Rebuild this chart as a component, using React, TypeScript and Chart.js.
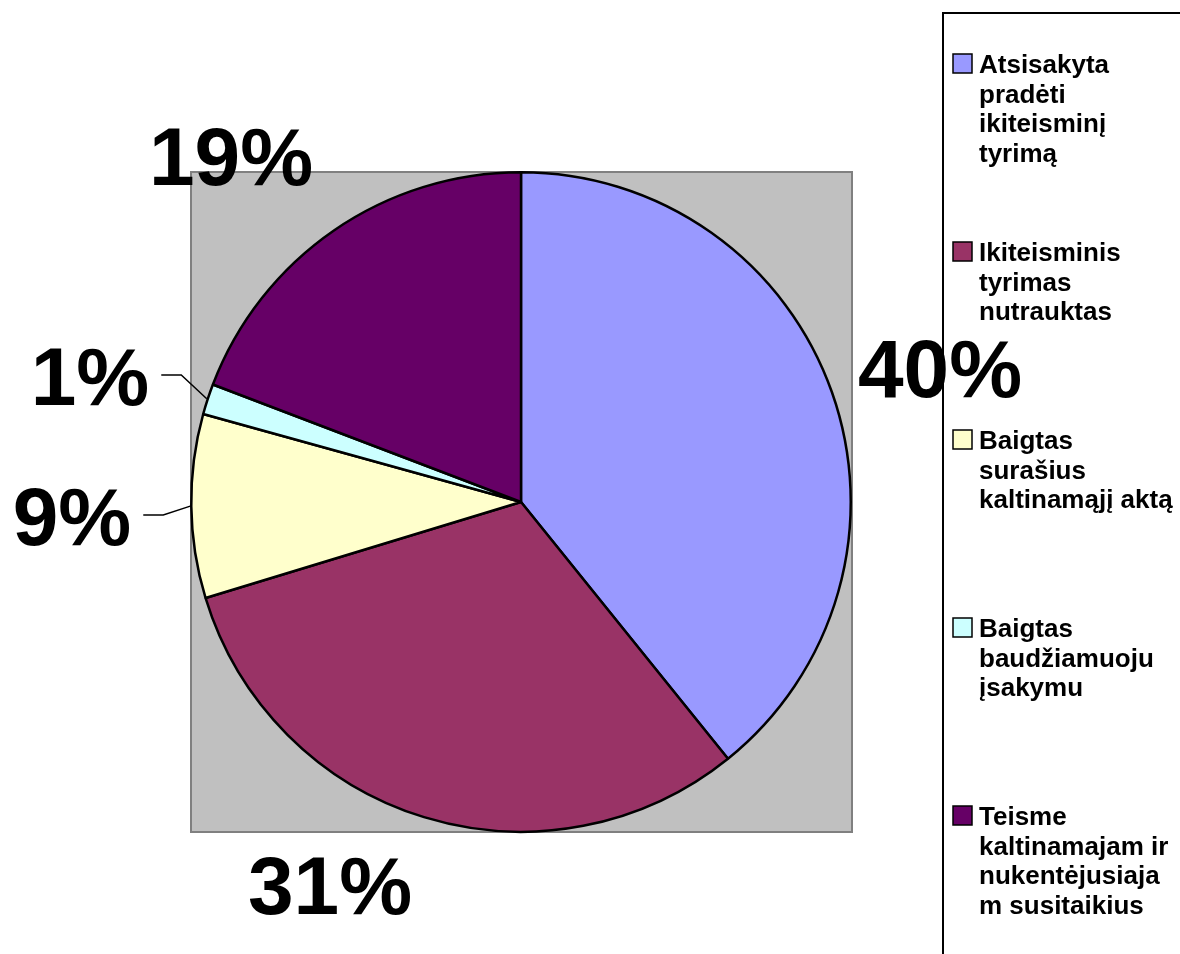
import React, { useEffect, useRef } from "react";
import { Chart, registerables } from "chart.js";

Chart.register(...registerables);

const categories: string[][] = [
  ["Atsisakyta", "pradėti", "ikiteisminį", "tyrimą"],
  ["Ikiteisminis", "tyrimas", "nutrauktas"],
  ["Baigtas", "surašius", "kaltinamąjį aktą"],
  ["Baigtas", "baudžiamuoju", "įsakymu"],
  ["Teisme", "kaltinamajam ir", "nukentėjusiaja", "m susitaikius"],
];
const shares = [39.2, 31.1, 9.0, 1.5, 19.2];
const pctLabels = ["40%", "31%", "9%", "1%", "19%"];
const colors = ["#9999FF", "#993366", "#FFFFCC", "#CCFFFF", "#660066"];

const FONT = '"Liberation Sans", Arial, Helvetica, sans-serif';

const decorPlugin = {
  id: "decor",
  beforeDatasetsDraw(chart: any) {
    const { ctx, chartArea } = chart;
    ctx.save();
    ctx.fillStyle = "#C0C0C0";
    const l = chartArea.left + 1;
    const t = chartArea.top + 1;
    const w = chartArea.right - chartArea.left - 1;
    const h = chartArea.bottom - chartArea.top - 2;
    ctx.fillRect(l, t, w, h);
    ctx.strokeStyle = "#808080";
    ctx.lineWidth = 2;
    ctx.strokeRect(l, t, w, h);
    ctx.restore();
  },
  afterDraw(chart: any) {
    const { ctx } = chart;
    const meta = chart.getDatasetMeta(0);
    ctx.save();

    // percentage labels (layout positions, Excel best-fit)
    const labelPos: { x: number; y: number; leader: boolean }[] = [
      { x: 940, y: 397, leader: false },
      { x: 330, y: 914, leader: false },
      { x: 72, y: 545, leader: true },
      { x: 90, y: 405, leader: true },
      { x: 231, y: 185, leader: false },
    ];
    ctx.fillStyle = "#000";
    ctx.font = `bold 82px ${FONT}`;
    ctx.textAlign = "center";
    ctx.textBaseline = "alphabetic";
    pctLabels.forEach((txt, i) => {
      const p = labelPos[i];
      ctx.fillText(txt, p.x, p.y);
      if (p.leader) {
        const arc = meta.data[i];
        const mid = (arc.startAngle + arc.endAngle) / 2;
        const r = arc.outerRadius + 1;
        const ex = arc.x + Math.cos(mid) * r;
        const ey = arc.y + Math.sin(mid) * r;
        const tw = ctx.measureText(txt).width;
        const sx = p.x + tw / 2 + 12;
        const sy = p.y - 30;
        ctx.beginPath();
        ctx.strokeStyle = "#000";
        ctx.lineWidth = 1.5;
        ctx.moveTo(sx, sy);
        ctx.lineTo(sx + 20, sy);
        ctx.lineTo(ex, ey);
        ctx.stroke();
      }
    });

    // legend
    ctx.strokeStyle = "#000";
    ctx.lineWidth = 2;
    ctx.beginPath();
    ctx.moveTo(1190, 13);
    ctx.lineTo(943, 13);
    ctx.lineTo(943, 970);
    ctx.stroke();

    ctx.font = `bold 26px ${FONT}`;
    ctx.textAlign = "left";
    const firstBase = 73;
    const itemStep = 188;
    const lineH = 29.5;
    const labels = chart.data.labels as string[][];
    labels.forEach((lines, i) => {
      const base = firstBase + i * itemStep;
      ctx.fillStyle = colors[i];
      ctx.fillRect(953, base - 19, 19, 19);
      ctx.strokeStyle = "#000";
      ctx.lineWidth = 1.5;
      ctx.strokeRect(953, base - 19, 19, 19);
      ctx.fillStyle = "#000";
      lines.forEach((ln, j) => {
        ctx.fillText(ln, 979, base + j * lineH);
      });
    });
    ctx.restore();
  },
};

export default function App() {
  const ref = useRef<HTMLCanvasElement | null>(null);
  useEffect(() => {
    if (!ref.current) return;
    const chart = new Chart(ref.current, {
      type: "pie",
      data: {
        labels: categories,
        datasets: [
          {
            data: shares,
            backgroundColor: colors,
            borderColor: "#000",
            borderWidth: 2.5,
          },
        ],
      },
      options: {
        responsive: false,
        animation: false,
        devicePixelRatio: 1,
        layout: { padding: { left: 190, right: 328, top: 171, bottom: 121 } },
        plugins: {
          legend: { display: false },
          tooltip: { enabled: false },
          title: { display: false },
        },
      },
      plugins: [decorPlugin],
    });
    return () => chart.destroy();
  }, []);
  return (
    <div style={{ position: "absolute", left: 0, top: 0, width: 1180, height: 954, background: "#fff" }}>
      <canvas ref={ref} width={1180} height={954} style={{ display: "block" }} />
    </div>
  );
}
